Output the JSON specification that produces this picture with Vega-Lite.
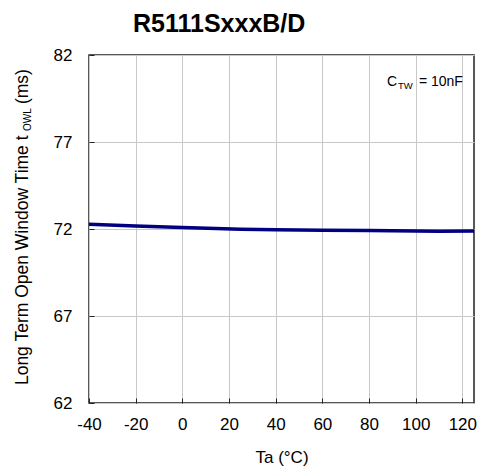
{
  "$schema": "https://vega.github.io/schema/vega-lite/v6.json",
  "width": 385,
  "height": 348,
  "autosize": {"type": "none"},
  "padding": {"left": 89, "top": 55, "right": 8, "bottom": 70},
  "background": "white",
  "title": {
    "text": "R5111SxxxB/D",
    "anchor": "start",
    "frame": "group",
    "dx": 44,
    "fontSize": 25,
    "font": "Liberation Sans",
    "fontWeight": "bold",
    "color": "#000000",
    "baseline": "bottom",
    "offset": -16
  },
  "config": {
    "view": {"stroke": "#222222", "strokeWidth": 1.5},
    "axis": {
      "grid": true,
      "gridColor": "#c8c8c8",
      "gridWidth": 1,
      "domain": false,
      "ticks": true,
      "tickSize": -5,
      "tickColor": "#222222",
      "labelFont": "Liberation Sans",
      "labelFontSize": 17,
      "labelColor": "#000000",
      "labelFlush": false,
      "labelOverlap": false,
      "titleFont": "Liberation Sans",
      "titleFontSize": 17,
      "titleFontWeight": "normal",
      "titleColor": "#000000"
    },
    "text": {"font": "Liberation Sans", "color": "#000000"}
  },
  "datasets": {
    "curve": [
      {"ta": -40, "t": 72.27},
      {"ta": -20, "t": 72.17},
      {"ta": 0, "t": 72.08},
      {"ta": 25, "t": 71.99},
      {"ta": 40, "t": 71.96},
      {"ta": 60, "t": 71.93},
      {"ta": 80, "t": 71.91},
      {"ta": 100, "t": 71.88},
      {"ta": 110, "t": 71.87},
      {"ta": 125, "t": 71.88}
    ],
    "one": [{"n": 1}]
  },
  "layer": [
    {
      "data": {"name": "curve"},
      "mark": {"type": "line", "color": "#000080", "strokeWidth": 3.5},
      "encoding": {
        "x": {
          "field": "ta",
          "type": "quantitative",
          "scale": {"domain": [-40, 125], "nice": false, "zero": false},
          "axis": {"values": [-40, -20, 0, 20, 40, 60, 80, 100, 120], "title": "Ta (°C)", "labelPadding": 18, "titlePadding": 17, "labelExpr": "datum.value < 0 ? '-' + abs(datum.value) : '' + datum.value"}
        },
        "y": {
          "field": "t",
          "type": "quantitative",
          "scale": {"domain": [62, 82], "nice": false, "zero": false},
          "axis": {"values": [62, 67, 72, 77, 82], "title": null, "labelPadding": 22}
        }
      }
    },
    {
      "data": {"name": "one"},
      "mark": {"type": "text", "text": "C", "fontSize": 14, "align": "left", "baseline": "alphabetic"},
      "encoding": {
        "x": {"datum": 87.7, "type": "quantitative", "scale": {"domain": [-40, 125], "nice": false, "zero": false}},
        "y": {"datum": 80.22, "type": "quantitative", "scale": {"domain": [62, 82], "nice": false, "zero": false}}
      }
    },
    {
      "data": {"name": "one"},
      "mark": {"type": "text", "text": "TW", "fontSize": 9.5, "align": "left", "baseline": "alphabetic"},
      "encoding": {
        "x": {"datum": 92.4, "type": "quantitative", "scale": {"domain": [-40, 125], "nice": false, "zero": false}},
        "y": {"datum": 80.05, "type": "quantitative", "scale": {"domain": [62, 82], "nice": false, "zero": false}}
      }
    },
    {
      "data": {"name": "one"},
      "mark": {"type": "text", "text": "= 10nF", "fontSize": 14, "align": "left", "baseline": "alphabetic"},
      "encoding": {
        "x": {"datum": 101.4, "type": "quantitative", "scale": {"domain": [-40, 125], "nice": false, "zero": false}},
        "y": {"datum": 80.22, "type": "quantitative", "scale": {"domain": [62, 82], "nice": false, "zero": false}}
      }
    },
    {
      "data": {"name": "one"},
      "mark": {"type": "text", "text": "Long Term Open Window Time t", "fontSize": 17.5, "angle": 270, "align": "left", "baseline": "alphabetic"},
      "encoding": {
        "x": {"datum": -66.1, "type": "quantitative", "scale": {"domain": [-40, 125], "nice": false, "zero": false}},
        "y": {"datum": 63.03, "type": "quantitative", "scale": {"domain": [62, 82], "nice": false, "zero": false}}
      }
    },
    {
      "data": {"name": "one"},
      "mark": {"type": "text", "text": "OWL", "fontSize": 10, "angle": 270, "align": "left", "baseline": "alphabetic"},
      "encoding": {
        "x": {"datum": -64.9, "type": "quantitative", "scale": {"domain": [-40, 125], "nice": false, "zero": false}},
        "y": {"datum": 77.63, "type": "quantitative", "scale": {"domain": [62, 82], "nice": false, "zero": false}}
      }
    },
    {
      "data": {"name": "one"},
      "mark": {"type": "text", "text": "(ms)", "fontSize": 17.5, "angle": 270, "align": "left", "baseline": "alphabetic"},
      "encoding": {
        "x": {"datum": -66.1, "type": "quantitative", "scale": {"domain": [-40, 125], "nice": false, "zero": false}},
        "y": {"datum": 79.18, "type": "quantitative", "scale": {"domain": [62, 82], "nice": false, "zero": false}}
      }
    }
  ]
}
